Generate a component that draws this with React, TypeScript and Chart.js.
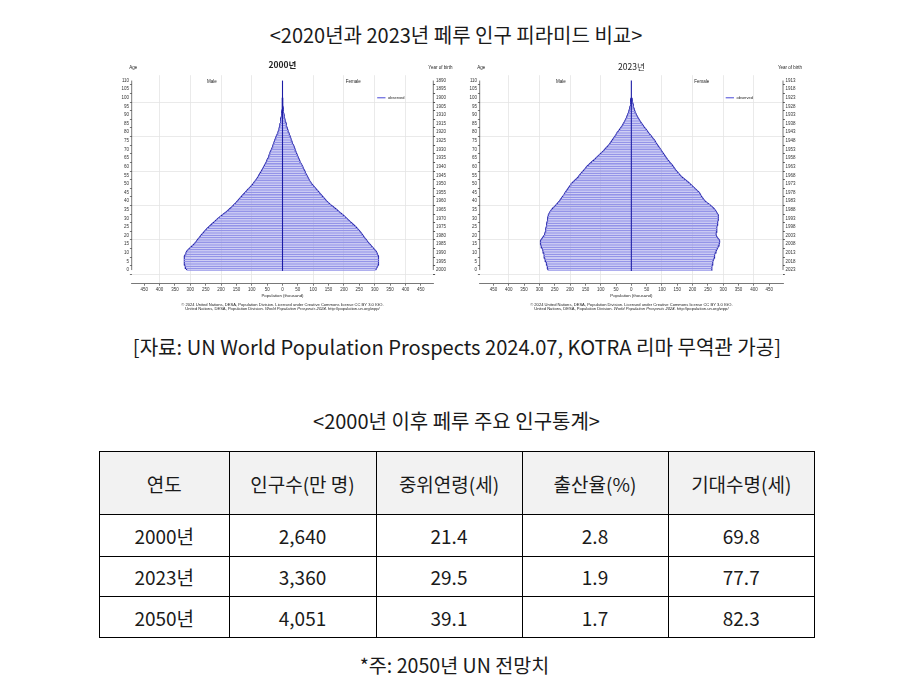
import React, { useEffect, useRef } from 'react';
import { Chart, registerables } from 'chart.js';
Chart.register(...registerables);

// ---------- data ----------
const AGES = [
  0, 1, 2, 3, 4, 5, 6, 7, 8, 9, 10, 11, 12, 13, 14, 15, 16, 17, 18, 19,
  20, 21, 22, 23, 24, 25, 26, 27, 28, 29, 30, 31, 32, 33, 34, 35, 36, 37, 38, 39,
  40, 41, 42, 43, 44, 45, 46, 47, 48, 49, 50, 51, 52, 53, 54, 55, 56, 57, 58, 59,
  60, 61, 62, 63, 64, 65, 66, 67, 68, 69, 70, 71, 72, 73, 74, 75, 76, 77, 78, 79,
  80, 81, 82, 83, 84, 85, 86, 87, 88, 89, 90, 91, 92, 93, 94, 95, 96, 97, 98, 99, 100,
];

// population in thousands, by single age 0..100
const MALE_2000 = [
  311, 314, 316, 318, 319, 320, 320, 319, 318, 316,
  314, 311, 306, 300, 294, 288, 283, 279, 275, 270,
  266, 261, 256, 251, 246, 240, 234, 228, 222, 216,
  210, 203, 196, 189, 181, 175, 169, 163, 158, 152,
  147, 142, 137, 132, 127, 122, 117, 112, 106, 101,
  96, 92, 88, 84, 80, 77, 74, 70, 67, 64,
  61, 58, 55, 52, 50, 47, 45, 43, 41, 39,
  36, 34, 32, 30, 28, 26, 24, 22, 19.5, 17,
  15, 13, 11.5, 10, 9, 8, 7, 6, 5, 4,
  3.3, 2.6, 2, 1.6, 1.2, 0.9, 0.7, 0.5, 0.35, 0.25, 0.2,
];
const FEMALE_2000 = [
  303, 306, 309, 311, 312, 313, 313, 312, 311, 309,
  307, 304, 299, 294, 289, 284, 279, 275, 271, 266,
  262, 258, 254, 249, 244, 239, 233, 227, 221, 215,
  209, 203, 197, 190, 183, 177, 170, 163, 156, 150,
  144, 139, 134, 129, 124, 120, 115, 110, 105, 100,
  95, 92, 88, 85, 82, 79, 76, 74, 71, 68,
  66, 63, 60, 57, 55, 52, 50, 48, 45, 43,
  41, 39, 37, 34, 32, 30, 28, 26, 24, 22,
  20, 18, 16, 14.5, 13, 11.5, 10, 8.5, 7, 6,
  5, 4, 3.2, 2.5, 2, 1.5, 1.1, 0.8, 0.6, 0.4, 0.3,
];
const MALE_2023 = [
  272, 273, 274, 276, 277, 279, 281, 283, 284, 285,
  286, 288, 290, 292, 294, 296, 297, 296, 293, 289,
  285, 283, 281, 280, 279, 278, 277, 276, 275, 274,
  273, 272, 271, 268, 265, 261, 256, 250, 245, 240,
  235, 231, 227, 223, 219, 216, 212, 208, 204, 200,
  197, 191, 185, 179, 173, 170, 165, 160, 155, 150,
  146, 140, 134, 128, 121, 116, 110, 104, 98, 92,
  87, 82, 77, 72, 68, 64, 60, 56, 52, 49,
  46, 41, 37, 33, 29, 26, 23, 20, 17, 15,
  12.5, 10.5, 8.5, 7, 5.5, 4.3, 3.3, 2.5, 1.8, 1.3, 1,
];
const FEMALE_2023 = [
  261, 262, 263, 264, 265, 266, 268, 270, 271, 272,
  274, 276, 279, 282, 284, 286, 288, 288, 285, 280,
  277, 276, 277, 278, 279, 279, 280, 281, 282, 283,
  284, 284, 283, 280, 277, 273, 268, 262, 256, 248,
  241, 236, 232, 228, 225, 222, 216, 210, 204, 198,
  192, 186, 179, 172, 165, 160, 155, 150, 145, 141,
  137, 133, 128, 124, 119, 115, 111, 107, 103, 99,
  96, 92, 88, 84, 80, 77, 73, 68, 64, 59,
  55, 51, 47, 42, 38, 34, 30, 27, 23, 20,
  17, 14.5, 12, 10, 8.5, 7, 5.5, 4.3, 3.3, 2.5, 2,
];

const TABLE_HEAD = ['연도', '인구수(만 명)', '중위연령(세)', '출산율(%)', '기대수명(세)'];
const TABLE_YEARS = ['2000년', '2023년', '2050년'];
const POPULATION = ['2,640', '3,360', '4,051'];
const MEDIAN_AGE = ['21.4', '29.5', '39.1'];
const FERTILITY = ['2.8', '1.9', '1.7'];
const LIFE_EXPECTANCY = ['69.8', '77.7', '82.3'];

// ---------- styles ----------
const FILL = 'rgb(148,148,232)';
const EDGE = 'rgb(28,28,165)';
const LEGEND_LINE = 'rgb(70,70,215)';
const FONT = '"Liberation Sans", Arial, sans-serif';
const KFONT = '"Noto Sans CJK KR", "Noto Sans", sans-serif';
const TXT = '#1a1a1a';

type PyrProps = {
  left: number;
  canvasW: number;
  plotW: number;
  range: number;
  year: number;
  title: string;
  titleY: number;
  titleBold: boolean;
  male: number[];
  female: number[];
};

const CH = 262;
const LEFTW = 21.7;
const TOPPAD = 20.2;
const XH = 33.3;

function Pyramid(p: PyrProps) {
  const ref = useRef<HTMLCanvasElement>(null);
  useEffect(() => {
    if (!ref.current) return;
    const rightW = p.canvasW - LEFTW - p.plotW;
    const maleData = AGES.map((a, i) => ({ x: -p.male[i], y: a }));
    const femData = AGES.map((a, i) => ({ x: p.female[i], y: a }));

    const decor = {
      id: 'decor',
      afterDraw(chart: any) {
        const ctx = chart.ctx as CanvasRenderingContext2D;
        const x = chart.scales.x;
        const y = chart.scales.y;
        const x0 = x.getPixelForValue(0);
        ctx.save();
        // left & right axis lines (age 0..110)
        ctx.strokeStyle = '#555';
        ctx.lineWidth = 0.8;
        ctx.beginPath();
        ctx.moveTo(x.left, y.getPixelForValue(110));
        ctx.lineTo(x.left, y.getPixelForValue(0));
        ctx.moveTo(x.right, y.getPixelForValue(110));
        ctx.lineTo(x.right, y.getPixelForValue(0));
        ctx.stroke();
        // centre line
        ctx.strokeStyle = EDGE;
        ctx.lineWidth = 1.1;
        ctx.beginPath();
        ctx.moveTo(x0, y.getPixelForValue(110));
        ctx.lineTo(x0, y.getPixelForValue(-0.5));
        ctx.stroke();

        ctx.fillStyle = '#222';
        ctx.textBaseline = 'middle';
        // title
        ctx.textAlign = 'center';
        ctx.font = `${p.titleBold ? 'bold ' : ''}8.5px ${KFONT}`;
        ctx.fillText(p.title, x0, p.titleY);
        // Age / Year of birth
        ctx.font = `4.5px ${FONT}`;
        ctx.fillText('Age', x.left + 1.5, 12.7);
        ctx.textAlign = 'left';
        ctx.fillText('Year of birth', x.right - 5, 12.7);
        // Male / Female
        ctx.textAlign = 'center';
        const yTop = y.getPixelForValue(110) + 1;
        ctx.fillText('Male', x.getPixelForValue(-230), yTop);
        ctx.fillText('Female', x.getPixelForValue(230), yTop);
        // legend
        const ly = y.getPixelForValue(100);
        ctx.strokeStyle = LEGEND_LINE;
        ctx.lineWidth = 1;
        ctx.beginPath();
        ctx.moveTo(x.getPixelForValue(308), ly);
        ctx.lineTo(x.getPixelForValue(335), ly);
        ctx.stroke();
        ctx.textAlign = 'left';
        ctx.font = `4px ${FONT}`;
        ctx.fillText('observed', x.getPixelForValue(343), ly);
        // x title
        ctx.textAlign = 'center';
        ctx.font = `4.3px ${FONT}`;
        ctx.fillText('Population (thousand)', x0, 240.7);
        // credits
        ctx.font = `4.1px ${FONT}`;
        ctx.fillText(
          '© 2024 United Nations, DESA, Population Division. Licensed under Creative Commons license CC BY 3.0 IGO.',
          x0,
          249.4
        );
        const s1 = 'United Nations, DESA, Population Division. ';
        const s2 = 'World Population Prospects 2024';
        const s3 = '. http://population.un.org/wpp/';
        ctx.font = `4.1px ${FONT}`;
        const w1 = ctx.measureText(s1).width;
        const w3 = ctx.measureText(s3).width;
        ctx.font = `italic 4.1px ${FONT}`;
        const w2 = ctx.measureText(s2).width;
        let sx = x0 - (w1 + w2 + w3) / 2;
        ctx.textAlign = 'left';
        ctx.font = `4.1px ${FONT}`;
        ctx.fillText(s1, sx, 254.2);
        sx += w1;
        ctx.font = `italic 4.1px ${FONT}`;
        ctx.fillText(s2, sx, 254.2);
        sx += w2;
        ctx.font = `4.1px ${FONT}`;
        ctx.fillText(s3, sx, 254.2);
        ctx.restore();
      },
    };

    const tickFont = { size: 4.5, family: FONT };
    const chart = new Chart(ref.current, {
      type: 'bar',
      data: {
        datasets: [
          {
            type: 'bar',
            label: 'Male',
            data: maleData,
            backgroundColor: FILL,
            borderWidth: 0,
            grouped: false,
            barPercentage: 0.72,
            categoryPercentage: 1,
          } as any,
          {
            type: 'bar',
            label: 'Female',
            data: femData,
            backgroundColor: FILL,
            borderWidth: 0,
            grouped: false,
            barPercentage: 0.72,
            categoryPercentage: 1,
          } as any,
          {
            type: 'line',
            label: 'observed male',
            data: maleData,
            borderColor: EDGE,
            borderWidth: 1.2,
            pointRadius: 0,
            fill: false,
            tension: 0,
          } as any,
          {
            type: 'line',
            label: 'observed female',
            data: femData,
            borderColor: EDGE,
            borderWidth: 1.2,
            pointRadius: 0,
            fill: false,
            tension: 0,
          } as any,
        ],
      },
      options: {
        indexAxis: 'y',
        animation: false,
        responsive: false,
        events: [],
        layout: { padding: { top: TOPPAD, left: 0, right: 0, bottom: 0 } },
        plugins: { legend: { display: false }, tooltip: { enabled: false }, title: { display: false } },
        scales: {
          x: {
            type: 'linear',
            position: 'bottom',
            min: -p.range,
            max: p.range,
            afterFit: (s: any) => {
              s.height = XH;
            },
            ticks: {
              stepSize: 50,
              includeBounds: false,
              autoSkip: false,
              maxRotation: 0,
              font: tickFont,
              color: '#333',
              padding: 1.5,
              callback: (v: any) => String(Math.abs(Number(v))),
            },
            grid: {
              color: (c: any) =>
                c.tick && c.tick.value % 100 === 0 && c.tick.value !== 0 ? '#e4e4e4' : 'rgba(0,0,0,0)',
              tickColor: '#555',
              tickLength: 2,
              lineWidth: 0.8,
            },
            border: { display: true, color: '#555', width: 0.8 },
          },
          y: {
            type: 'linear',
            position: 'left',
            min: -5.4,
            max: 110.6,
            afterFit: (s: any) => {
              s.width = LEFTW;
            },
            ticks: {
              stepSize: 5,
              includeBounds: false,
              autoSkip: false,
              font: tickFont,
              color: '#333',
              padding: 0.8,
              callback: (v: any) => (Number(v) >= 0 ? String(v) : ''),
            },
            grid: {
              color: (c: any) =>
                c.tick && c.tick.value >= 0 && c.tick.value % 20 === 0 ? '#e4e4e4' : 'rgba(0,0,0,0)',
              tickColor: (c: any) => (c.tick && c.tick.value >= 0 ? '#555' : 'rgba(0,0,0,0)'),
              tickLength: 1.8,
              lineWidth: 0.8,
            },
            border: { display: false },
          },
          y2: {
            type: 'linear',
            position: 'right',
            min: -5.4,
            max: 110.6,
            afterFit: (s: any) => {
              s.width = rightW;
            },
            ticks: {
              stepSize: 5,
              includeBounds: false,
              autoSkip: false,
              font: tickFont,
              color: '#333',
              padding: 0.8,
              callback: (v: any) => (Number(v) >= 0 ? String(p.year - Number(v)) : ''),
            },
            grid: {
              drawOnChartArea: false,
              tickColor: (c: any) => (c.tick && c.tick.value >= 0 ? '#555' : 'rgba(0,0,0,0)'),
              tickLength: 1.8,
            },
            border: { display: false },
          },
        },
      } as any,
      plugins: [decor],
    });
    return () => chart.destroy();
  }, []);
  return (
    <canvas
      ref={ref}
      width={p.canvasW}
      height={CH}
      style={{ position: 'absolute', left: p.left, top: 55, width: p.canvasW, height: CH }}
    />
  );
}

// centred text line; centre x = 456
const textStyle = (top: number, size: number): React.CSSProperties => ({
  position: 'absolute',
  left: 7.5,
  width: 897,
  top,
  textAlign: 'center',
  fontFamily: KFONT,
  fontSize: size,
  lineHeight: `${size}px`,
  color: TXT,
  whiteSpace: 'nowrap',
});

const cellStyle: React.CSSProperties = {
  border: '1px solid #000',
  textAlign: 'center',
  verticalAlign: 'middle',
  padding: 0,
  fontWeight: 'normal',
  lineHeight: '19px',
};

export default function App() {
  const rows = TABLE_YEARS.map((yr, i) => [yr, POPULATION[i], MEDIAN_AGE[i], FERTILITY[i], LIFE_EXPECTANCY[i]]);
  const rowHeights = [42, 40, 41];
  return (
    <div
      style={{
        position: 'absolute',
        left: 0,
        top: 0,
        width: 897,
        height: 683,
        background: '#fff',
        overflow: 'hidden',
      }}
    >
      <div style={textStyle(36 - 11.2, 20)}>{'<2020년과 2023년 페루 인구 피라미드 비교>'}</div>
      <Pyramid
        left={110}
        canvasW={345}
        plotW={301.6}
        range={490.5}
        year={2000}
        title="2000년"
        titleY={9.3}
        titleBold={true}
        male={MALE_2000}
        female={FEMALE_2000}
      />
      <Pyramid
        left={458}
        canvasW={347}
        plotW={303.3}
        range={495}
        year={2023}
        title="2023년"
        titleY={11.5}
        titleBold={false}
        male={MALE_2023}
        female={FEMALE_2023}
      />
      <div style={{ ...textStyle(348 - 11.3, 20.1), left: 8.5 }}>
        {'[자료: UN World Population Prospects 2024.07, KOTRA 리마 무역관 가공]'}
      </div>
      <div style={{ ...textStyle(422 - 11.2, 20), left: 8 }}>{'<2000년 이후 페루 주요 인구통계>'}</div>
      <table
        style={{
          position: 'absolute',
          left: 99,
          top: 451,
          width: 715,
          borderCollapse: 'collapse',
          tableLayout: 'fixed',
          fontFamily: KFONT,
          fontSize: 19,
          color: TXT,
        }}
      >
        <colgroup>
          <col style={{ width: 129.5 }} />
          <col style={{ width: 147 }} />
          <col style={{ width: 146 }} />
          <col style={{ width: 146 }} />
          <col style={{ width: 146.5 }} />
        </colgroup>
        <thead>
          <tr style={{ height: 63, background: '#f2f2f2' }}>
            {TABLE_HEAD.map((h) => (
              <th key={h} style={cellStyle}>
                {h}
              </th>
            ))}
          </tr>
        </thead>
        <tbody>
          {rows.map((r, i) => (
            <tr key={i} style={{ height: rowHeights[i] }}>
              {r.map((c, j) => (
                <td key={j} style={cellStyle}>
                  {c}
                </td>
              ))}
            </tr>
          ))}
        </tbody>
      </table>
      <div style={{ ...textStyle(666 - 11, 19.6), left: 6 }}>{'*주: 2050년 UN 전망치'}</div>
    </div>
  );
}
